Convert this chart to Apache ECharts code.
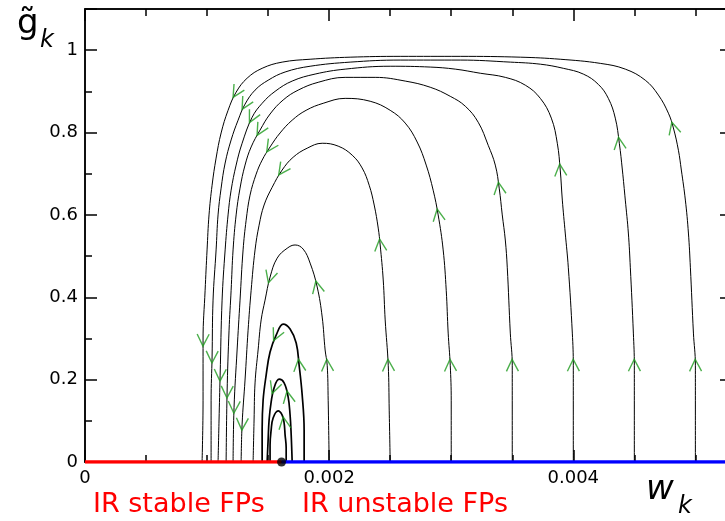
<!DOCTYPE html>
<html>
<head>
<meta charset="utf-8">
<script src="https://cdn.jsdelivr.net/npm/echarts@6/dist/echarts.min.js"></script>
<style>
html, body { margin: 0; padding: 0; background: #fff; }
#chart { width: 725px; height: 521px; }
</style>
</head>
<body>
<div id="chart"></div>
<script>
// axis ranges and tick labels
var xMin = 0, xMax = 0.0053;
var yMin = 0, yMax = 1.1;
var xTickLabels = ['0', '0.002', '0.004'];
var yTickLabels = ['0', '0.2', '0.4', '0.6', '0.8', '1'];

// line of fixed points at g = 0, split at the critical point
var criticalPoint = [[1.61e-3, 0]];
var stableFPs = [[0, 0], [1.61e-3, 0]];
var unstableFPs = [[1.61e-3, 0], [5.3e-3, 0]];

// trajectories, left foot -> right foot. third value 1 = flow arrow drawn there
var trajA = [[0.959e-3,0],[0.967e-3,0.150],[0.967e-3,0.296,1],[0.984e-3,0.417],[1.000e-3,0.515],[1.016e-3,0.600],[1.041e-3,0.672],[1.074e-3,0.738],[1.115e-3,0.799],[1.172e-3,0.854],[1.238e-3,0.898,1],[1.328e-3,0.932],[1.451e-3,0.956],[1.615e-3,0.971],[1.844e-3,0.978],[2.172e-3,0.983],[2.582e-3,0.985],[3.074e-3,0.985],[3.566e-3,0.983],[3.893e-3,0.978],[4.221e-3,0.968],[4.426e-3,0.954],[4.590e-3,0.927],[4.697e-3,0.891],[4.779e-3,0.847],[4.820e-3,0.811,1],[4.861e-3,0.757],[4.885e-3,0.709],[4.918e-3,0.636],[4.943e-3,0.556],[4.959e-3,0.473],[4.984e-3,0.313],[5.000e-3,0.235,1],[5.000e-3,0.150],[5.000e-3,0]];
var trajB = [[1.033e-3,0],[1.033e-3,0.150],[1.041e-3,0.255,1],[1.049e-3,0.393],[1.074e-3,0.515],[1.090e-3,0.600],[1.115e-3,0.665],[1.148e-3,0.726],[1.197e-3,0.782],[1.254e-3,0.830],[1.311e-3,0.869,1],[1.393e-3,0.903],[1.500e-3,0.927],[1.639e-3,0.947],[1.844e-3,0.961],[2.172e-3,0.971],[2.582e-3,0.976],[3.074e-3,0.976],[3.484e-3,0.971],[3.730e-3,0.966],[3.918e-3,0.956],[4.082e-3,0.942],[4.205e-3,0.917],[4.287e-3,0.883],[4.344e-3,0.835],[4.377e-3,0.774,1],[4.402e-3,0.709],[4.426e-3,0.636],[4.451e-3,0.556],[4.467e-3,0.473],[4.492e-3,0.313],[4.500e-3,0.235,1],[4.500e-3,0.150],[4.500e-3,0]];
var trajC = [[1.090e-3,0],[1.098e-3,0.102],[1.107e-3,0.211,1],[1.123e-3,0.393],[1.148e-3,0.515],[1.172e-3,0.600],[1.197e-3,0.660],[1.238e-3,0.721],[1.287e-3,0.774],[1.369e-3,0.837,1],[1.451e-3,0.871],[1.557e-3,0.900],[1.697e-3,0.925],[1.885e-3,0.942],[2.131e-3,0.954],[2.500e-3,0.961],[2.828e-3,0.959],[3.033e-3,0.954],[3.238e-3,0.944],[3.443e-3,0.934],[3.607e-3,0.915],[3.730e-3,0.883],[3.820e-3,0.835],[3.869e-3,0.774],[3.893e-3,0.709,1],[3.910e-3,0.636],[3.934e-3,0.556],[3.959e-3,0.473],[3.992e-3,0.313],[4.000e-3,0.235,1],[4.000e-3,0.150],[4.000e-3,0]];
var trajD = [[1.156e-3,0],[1.164e-3,0.170,1],[1.180e-3,0.320],[1.197e-3,0.417],[1.213e-3,0.515],[1.238e-3,0.600],[1.270e-3,0.665],[1.311e-3,0.721],[1.361e-3,0.765],[1.434e-3,0.806,1],[1.516e-3,0.845],[1.623e-3,0.879],[1.746e-3,0.903],[1.910e-3,0.922],[2.131e-3,0.934],[2.377e-3,0.934],[2.623e-3,0.925],[2.828e-3,0.910],[2.992e-3,0.888],[3.115e-3,0.864],[3.221e-3,0.825],[3.303e-3,0.769],[3.361e-3,0.721],[3.393e-3,0.665,1],[3.418e-3,0.600],[3.443e-3,0.539],[3.459e-3,0.473],[3.484e-3,0.313],[3.500e-3,0.235,1],[3.500e-3,0.150],[3.500e-3,0]];
var trajE = [[1.213e-3,0],[1.221e-3,0.133,1],[1.246e-3,0.272],[1.270e-3,0.393],[1.295e-3,0.515],[1.320e-3,0.587],[1.352e-3,0.648],[1.402e-3,0.699],[1.451e-3,0.733],[1.516e-3,0.765,1],[1.598e-3,0.799],[1.697e-3,0.830],[1.811e-3,0.854],[1.951e-3,0.871],[2.131e-3,0.883],[2.336e-3,0.876],[2.500e-3,0.854],[2.623e-3,0.823],[2.721e-3,0.777],[2.795e-3,0.721],[2.852e-3,0.660],[2.893e-3,0.600,1],[2.934e-3,0.515],[2.959e-3,0.417],[2.975e-3,0.313],[2.992e-3,0.235,1],[3.000e-3,0.150],[3.000e-3,0]];
var trajF = [[1.279e-3,0],[1.287e-3,0.092,1],[1.311e-3,0.199],[1.336e-3,0.320],[1.361e-3,0.417],[1.393e-3,0.515],[1.426e-3,0.575],[1.467e-3,0.624],[1.533e-3,0.667],[1.615e-3,0.709,1],[1.705e-3,0.740],[1.820e-3,0.762],[1.943e-3,0.774],[2.074e-3,0.767],[2.189e-3,0.745],[2.270e-3,0.714],[2.328e-3,0.672],[2.369e-3,0.624],[2.402e-3,0.568],[2.418e-3,0.527,1],[2.443e-3,0.442],[2.459e-3,0.345],[2.484e-3,0.235,1],[2.492e-3,0.126],[2.500e-3,0]];
var trajG = [[1.377e-3,0],[1.385e-3,0.102],[1.393e-3,0.192],[1.418e-3,0.272],[1.443e-3,0.345],[1.475e-3,0.393],[1.516e-3,0.449,1],[1.574e-3,0.495],[1.656e-3,0.519],[1.721e-3,0.527],[1.787e-3,0.517],[1.844e-3,0.483],[1.902e-3,0.425,1],[1.943e-3,0.352],[1.967e-3,0.272],[1.984e-3,0.235,1],[1.992e-3,0.150],[2.000e-3,0]];
var trajH = [[1.451e-3,0],[1.451e-3,0.078],[1.459e-3,0.150],[1.484e-3,0.211],[1.516e-3,0.267],[1.566e-3,0.308,1],[1.623e-3,0.335],[1.680e-3,0.323],[1.730e-3,0.289],[1.754e-3,0.235,1],[1.779e-3,0.163],[1.795e-3,0.078],[1.795e-3,0]];
var trajI = [[1.492e-3,0],[1.500e-3,0.053],[1.508e-3,0.102],[1.525e-3,0.146],[1.549e-3,0.180,1],[1.590e-3,0.201],[1.631e-3,0.192],[1.664e-3,0.158,1],[1.680e-3,0.114],[1.689e-3,0.066],[1.697e-3,0]];
var trajJ = [[1.516e-3,0],[1.516e-3,0.041],[1.525e-3,0.078],[1.541e-3,0.107],[1.582e-3,0.124],[1.615e-3,0.114],[1.631e-3,0.095,1],[1.639e-3,0.066],[1.648e-3,0.034],[1.648e-3,0]];

var outerTrajs = [trajA, trajB, trajC, trajD, trajE, trajF, trajG];
var innerTrajs = [trajH, trajI, trajJ];

var font = 'DejaVu Sans';

function pickLabel(labels, step) {
	return function (v) {
		var i = Math.round(v / step);
		if (Math.abs(v - i * step) > step * 1e-6 || i >= labels.length) return '';
		return labels[i];
	};
}

function makeAxis(pos, min, max, interval, len, fmt) {
	return {
		type: 'value', position: pos, min: min, max: max, interval: interval,
		axisLine: { show: true, onZero: false, lineStyle: { color: '#000', width: 1.5 } },
		axisTick: { show: true, inside: true, length: len, lineStyle: { color: '#000', width: 1.5 } },
		axisLabel: fmt ? {
			show: true, formatter: fmt, margin: 7, color: '#000',
			fontFamily: font, fontSize: 18
		} : { show: false },
		splitLine: { show: false }
	};
}

function curveSeries(tr, w) {
	return {
		type: 'line', xAxisIndex: 0, yAxisIndex: 0,
		data: tr.map(function (p) { return [p[0], p[1]]; }),
		showSymbol: false, smooth: 0.4, silent: true, z: 2,
		lineStyle: { color: '#000', width: w }
	};
}

function label(x, y, text, size, italic, color) {
	return {
		type: 'text', x: x, y: y, silent: true,
		style: {
			text: text, fontFamily: font, fontSize: size,
			fontStyle: italic ? 'italic' : 'normal',
			fill: color || '#000', verticalAlign: 'middle'
		}
	};
}

var series = [];
outerTrajs.forEach(function (tr) { series.push(curveSeries(tr, 1)); });
innerTrajs.forEach(function (tr) { series.push(curveSeries(tr, 1.7)); });

series.push({
	type: 'line', data: stableFPs, showSymbol: false, silent: true, z: 5,
	lineStyle: { color: '#ff0000', width: 3.5 }
});
series.push({
	type: 'line', data: unstableFPs, showSymbol: false, silent: true, z: 5,
	lineStyle: { color: '#0000ff', width: 3.5 }
});
series.push({
	type: 'scatter', data: criticalPoint, symbol: 'circle', symbolSize: 9, silent: true, z: 6,
	itemStyle: { color: '#000' }
});
series.push({
	id: 'arrows', type: 'scatter', data: [], silent: true, z: 7,
	symbol: 'path://M0,10 L5,0 L10,10', symbolSize: [12, 12],
	itemStyle: { color: 'rgba(0,0,0,0)', borderColor: '#1e9b1e', borderWidth: 1.4 }
});

var option = {
	animation: false,
	backgroundColor: '#fff',
	grid: { left: 85, top: 9, width: 647, height: 453, outerBoundsMode: 'none' },
	xAxis: [
		makeAxis('bottom', xMin, xMax, 0.0005, 7, null),
		makeAxis('bottom', xMin, xMax, 0.002, 12, pickLabel(xTickLabels, 0.002)),
		makeAxis('top', xMin, xMax, 0.0005, 7, null),
		makeAxis('top', xMin, xMax, 0.002, 12, null)
	],
	yAxis: [
		makeAxis('left', yMin, yMax, 0.1, 7, null),
		makeAxis('left', yMin, yMax, 0.2, 12, pickLabel(yTickLabels, 0.2)),
		makeAxis('right', yMin, yMax, 0.1, 7, null),
		makeAxis('right', yMin, yMax, 0.2, 12, null)
	],
	graphic: [
		label(17, 24, 'g\u0303', 34, false),
		label(40, 41, 'k', 24, true),
		label(646, 490, 'w', 34, true),
		label(678, 507, 'k', 24, true),
		label(93, 505, 'IR stable FPs', 27, false, '#ff0000'),
		label(302, 505, 'IR unstable FPs', 27, false, '#ff0000')
	],
	series: series
};

var chart = echarts.init(document.getElementById('chart'));
chart.setOption(option);

// flow arrows: point against the order of the listed points
var arrowData = [];
outerTrajs.concat(innerTrajs).forEach(function (tr) {
	tr.forEach(function (p, i) {
		if (p[2] !== 1) return;
		var a = chart.convertToPixel({ xAxisIndex: 0, yAxisIndex: 0 }, [tr[i - 1][0], tr[i - 1][1]]);
		var b = chart.convertToPixel({ xAxisIndex: 0, yAxisIndex: 0 }, [tr[i + 1][0], tr[i + 1][1]]);
		var dx = a[0] - b[0], dy = a[1] - b[1];
		arrowData.push({ value: [p[0], p[1]], symbolRotate: Math.atan2(-dx, -dy) * 180 / Math.PI });
	});
});
chart.setOption({ series: [{ id: 'arrows', data: arrowData }] });
</script>
</body>
</html>
